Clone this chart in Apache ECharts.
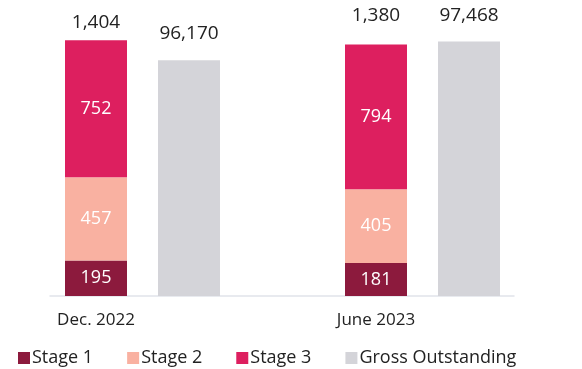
<!DOCTYPE html>
<html>
<head>
<meta charset="utf-8">
<script src="https://cdn.jsdelivr.net/npm/echarts@6/dist/echarts.min.js"></script>
<style>
  html, body { margin: 0; padding: 0; background: #ffffff; }
  #chart { width: 582px; height: 369px; }
</style>
</head>
<body>
<div id="chart"></div>
<script>
// Periods and stage-wise provisions, plus gross outstanding on its own scale
const categories = ['Dec. 2022', 'June 2023'];
const stage1 = [195, 181];
const stage2 = [457, 405];
const stage3 = [752, 794];
const grossOutstanding = [96170, 97468];
const seriesNames = ['Stage 1', 'Stage 2', 'Stage 3', 'Gross Outstanding'];

const colors = ['#8c1a3d', '#f9b1a1', '#dd1f5f', '#d4d4d9'];
const FONT = '"Open Sans", sans-serif';
const TEXT = '#222222';

const totals = categories.map((_, i) => stage1[i] + stage2[i] + stage3[i]);
const fmt = v => v.toLocaleString('en-US');

// spacing above each top label
const totalLabelGap = [8, 19];
const grossLabelGap = [17, 16];

const insideLabel = {
  show: true,
  position: 'inside',
  color: '#ffffff',
  fontFamily: FONT,
  fontSize: 18
};

const chart = echarts.init(document.getElementById('chart'), null, { renderer: 'canvas' });

chart.setOption({
  animation: false,
  backgroundColor: '#ffffff',
  textStyle: { fontFamily: FONT },
  grid: [
    { left: 2.5, right: 19.5, top: 4.5, bottom: 73 },
    { left: 50, right: 68, top: 4.5, bottom: 73 }
  ],
  legend: {
    data: seriesNames,
    left: 13,
    top: 344,
    icon: 'rect',
    itemWidth: 12,
    itemHeight: 12,
    itemGap: 34,
    textStyle: { fontFamily: FONT, fontSize: 18, color: TEXT, padding: [0, 0, 0, -3] }
  },
  xAxis: [
    {
      type: 'category',
      gridIndex: 0,
      data: categories,
      axisLine: { show: false },
      axisTick: { show: false },
      axisLabel: {
        color: TEXT,
        fontFamily: FONT,
        fontSize: 17,
        margin: 16,
        padding: [0, 93, 0, 0]
      }
    },
    {
      // baseline under the bars
      type: 'value',
      gridIndex: 1,
      min: 0,
      max: 1,
      axisLine: { show: true, onZero: false, lineStyle: { color: '#e1e4ea', width: 1.5 } },
      axisTick: { show: false },
      axisLabel: { show: false },
      splitLine: { show: false }
    }
  ],
  yAxis: [
    { type: 'value', gridIndex: 0, min: 0, max: 1600, show: false, splitLine: { show: false } },
    { type: 'value', gridIndex: 0, min: 80000, max: 100000, show: false, splitLine: { show: false } },
    { type: 'value', gridIndex: 1, min: 0, max: 1, show: false, splitLine: { show: false } }
  ],
  series: [
    {
      name: 'Stage 1', type: 'bar', stack: 'stages', yAxisIndex: 0,
      barWidth: 62, barGap: '50%',
      itemStyle: { color: colors[0] },
      label: insideLabel,
      data: stage1
    },
    {
      name: 'Stage 2', type: 'bar', stack: 'stages', yAxisIndex: 0,
      itemStyle: { color: colors[1] },
      label: insideLabel,
      data: stage2
    },
    {
      name: 'Stage 3', type: 'bar', stack: 'stages', yAxisIndex: 0,
      itemStyle: { color: colors[2] },
      label: insideLabel,
      data: stage3
    },
    {
      // zero-height cap carrying the stack total
      name: 'Total', type: 'bar', stack: 'stages', yAxisIndex: 0,
      itemStyle: { color: 'transparent' },
      silent: true,
      data: totals.map((t, i) => ({
        value: 0,
        label: {
          show: true,
          position: 'top',
          distance: totalLabelGap[i],
          formatter: () => fmt(t),
          color: TEXT,
          fontFamily: FONT,
          fontSize: 19
        }
      }))
    },
    {
      name: 'Gross Outstanding', type: 'bar', yAxisIndex: 1,
      barWidth: 62,
      itemStyle: { color: colors[3] },
      data: grossOutstanding.map((v, i) => ({
        value: v,
        label: {
          show: true,
          position: 'top',
          distance: grossLabelGap[i],
          formatter: p => fmt(p.value),
          color: TEXT,
          fontFamily: FONT,
          fontSize: 19
        }
      }))
    }
  ]
});
</script>
</body>
</html>
